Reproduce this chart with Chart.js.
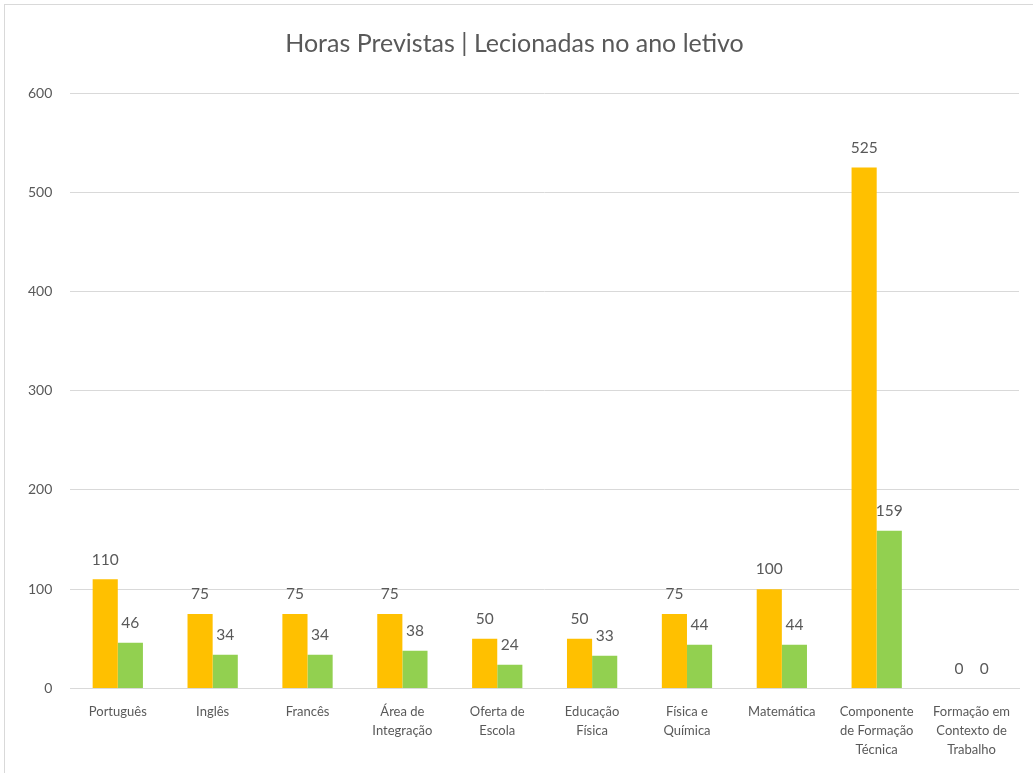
<!DOCTYPE html>
<html>
<head>
  <meta charset="utf-8" />
  <title>Horas Previstas | Lecionadas</title>
  <style>
    html, body { margin: 0; padding: 0; background: #fff; }
    #wrap { position: relative; width: 1033px; height: 773px; }
    #frame { position: absolute; left: 4px; top: 4px; right: -2px; bottom: -2px; border: 1px solid #d9d9d9; }
  </style>
</head>
<body>
<div id="wrap">
  <div id="frame"></div>
  <canvas id="chart" width="1033" height="773"></canvas>
</div>

<script src="https://cdn.jsdelivr.net/npm/chart.js"></script>
<script>
  // data
  var categories = [
    'Português', 'Inglês', 'Francês', ['Área de', 'Integração'], ['Oferta de', 'Escola'],
    ['Educação', 'Física'], ['Física e', 'Química'], 'Matemática',
    ['Componente', 'de Formação', 'Técnica'], ['Formação em', 'Contexto de', 'Trabalho']
  ];
  var previstas = [110, 75, 75, 75, 50, 50, 75, 100, 525, 0];
  var lecionadas = [46, 34, 34, 38, 24, 33, 44, 44, 159, 0];
  var yTicks = [0, 100, 200, 300, 400, 500, 600];

  var textColor = '#595959';
  var fontFamily = 'Lato, "Open Sans", sans-serif';

  // value labels above each bar
  var valueLabels = {
    id: 'valueLabels',
    afterDatasetsDraw: function(chart) {
      var ctx = chart.ctx;
      ctx.save();
      ctx.fillStyle = textColor;
      ctx.font = '15.5px ' + fontFamily;
      ctx.textAlign = 'center';
      ctx.textBaseline = 'bottom';
      chart.data.datasets.forEach(function(ds, i) {
        chart.getDatasetMeta(i).data.forEach(function(bar, j) {
          ctx.fillText(ds.data[j], bar.x, bar.y - 12);
        });
      });
      ctx.restore();
    }
  };

  var ctx = document.getElementById('chart').getContext('2d');
  var chart = new Chart(ctx, {
    type: 'bar',
    data: {
      labels: categories,
      datasets: [{
        label: 'Horas Previstas',
        data: previstas,
        backgroundColor: '#FFC000'
      }, {
        label: 'Horas Lecionadas',
        data: lecionadas,
        backgroundColor: '#92D050'
      }]
    },
    options: {
      responsive: false,
      animation: false,
      layout: { padding: { left: 10, right: 14, top: 10, bottom: 8 } },
      plugins: {
        legend: { display: false },
        tooltip: { enabled: false },
        title: {
          display: true,
          text: 'Horas Previstas | Lecionadas no ano letivo',
          color: textColor,
          font: { family: fontFamily, size: 25, weight: 'normal' },
          padding: { top: 19, bottom: 34 }
        }
      },
      datasets: {
        bar: { categoryPercentage: 0.53, barPercentage: 1.0 }
      },
      scales: {
        x: {
          grid: { display: false },
          border: { display: true, color: '#d9d9d9', width: 1 },
          ticks: {
            color: textColor,
            font: { family: fontFamily, size: 13, lineHeight: 1.45 },
            maxRotation: 0,
            autoSkip: false,
            padding: 6
          }
        },
        y: {
          min: 0,
          max: 600,
          afterBuildTicks: function(axis) {
            axis.ticks = yTicks.map(function(v) { return { value: v }; });
          },
          grid: { color: '#d9d9d9', drawTicks: false },
          border: { display: false },
          ticks: {
            color: textColor,
            font: { family: fontFamily, size: 14 },
            padding: 18
          }
        }
      }
    },
    plugins: [valueLabels]
  });
</script>
</body>
</html>
